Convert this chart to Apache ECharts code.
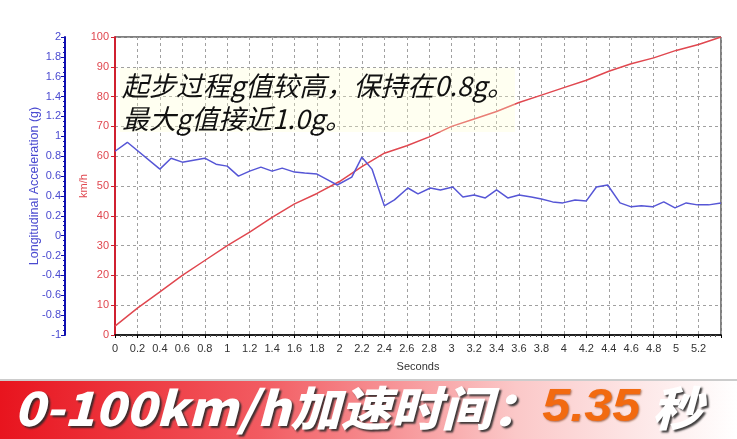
<!DOCTYPE html>
<html>
<head>
<meta charset="utf-8">
<script src="https://cdn.jsdelivr.net/npm/echarts@6/dist/echarts.min.js"></script>
<style>
html,body{margin:0;padding:0;background:#fff;}
#c{width:737px;height:439px;}
</style>
</head>
<body>
<div id="c"></div>
<script>
// ---- data ----
const accelTime = [0, 0.11, 0.4, 0.5, 0.6, 0.8, 0.9, 1.0, 1.1, 1.2, 1.3, 1.4, 1.49, 1.6, 1.69, 1.8, 1.9, 1.98, 2.11, 2.2, 2.29, 2.4, 2.49, 2.61, 2.7, 2.81, 2.9, 3.01, 3.1, 3.2, 3.3, 3.4, 3.5, 3.6, 3.71, 3.8, 3.9, 3.99, 4.1, 4.2, 4.29, 4.39, 4.5, 4.6, 4.69, 4.79, 4.89, 4.99, 5.09, 5.19, 5.29, 5.4];
const accelG    = [0.85, 0.94, 0.67, 0.78, 0.74, 0.78, 0.72, 0.70, 0.60, 0.65, 0.69, 0.65, 0.68, 0.64, 0.63, 0.62, 0.56, 0.51, 0.59, 0.79, 0.67, 0.30, 0.36, 0.48, 0.42, 0.48, 0.46, 0.49, 0.39, 0.41, 0.38, 0.46, 0.38, 0.41, 0.39, 0.37, 0.34, 0.33, 0.36, 0.35, 0.49, 0.51, 0.33, 0.29, 0.30, 0.29, 0.34, 0.28, 0.33, 0.31, 0.31, 0.33];
const speedTime = [0, 0.2, 0.4, 0.6, 0.8, 1.0, 1.2, 1.4, 1.6, 1.8, 2.0, 2.2, 2.4, 2.6, 2.8, 3.0, 3.2, 3.4, 3.6, 3.8, 4.0, 4.2, 4.4, 4.6, 4.8, 5.0, 5.2, 5.4];
const speedKmh  = [3, 9, 14.5, 20, 25, 30, 34.5, 39.5, 44, 47.5, 51.5, 56.5, 61, 63.5, 66.5, 70, 72.5, 75, 78, 80.5, 83, 85.5, 88.5, 91, 93, 95.5, 97.5, 100];
const annotationLines = ['起步过程g值较高，保持在0.8g。', '最大g值接近1.0g。'];
const bannerPrefix = '0-100km/h加速时间：';
const bannerValue = '5.35';
const bannerUnit = ' 秒';

const fmt = v => String(Math.round(v * 10) / 10);
const chart = echarts.init(document.getElementById('c'));
const blue = '#4a4ad0', red = '#e0474f';

chart.setOption({
  backgroundColor: '#fff',
  animation: false,
  grid: { left: 115, right: 16, top: 37, bottom: 104, show: true, borderColor: '#000', borderWidth: 1, backgroundColor: 'transparent' },
  xAxis: {
    type: 'value', min: 0, max: 5.4, interval: 0.2,
    name: 'Seconds', nameLocation: 'middle', nameGap: 26,
    nameTextStyle: { color: '#333', fontSize: 11, fontFamily: 'Liberation Sans' },
    axisLine: { lineStyle: { color: '#000', width: 1.5 } },
    axisTick: { show: true, length: 3, lineStyle: { color: '#000' } },
    minorTick: { show: true, splitNumber: 4, length: 2, lineStyle: { color: '#555' } },
    axisLabel: { color: '#333', fontSize: 11, fontFamily: 'Liberation Sans', margin: 8,
      formatter: v => (v > 5.3 ? '' : fmt(v)) },
    splitLine: { show: true, lineStyle: { color: '#a0a0a0', type: [3, 3], width: 1 } }
  },
  yAxis: [
    {
      type: 'value', min: 0, max: 100, interval: 10, position: 'left', offset: 0,
      name: 'km/h', nameLocation: 'middle', nameGap: 26, nameRotate: 90, nameMoveOverlap: false,
      nameTextStyle: { color: red, fontSize: 11, fontFamily: 'Liberation Sans' },
      axisLine: { show: true, lineStyle: { color: '#d02030', width: 2 } },
      axisTick: { show: true, length: 4, lineStyle: { color: '#d02030' } },
      axisLabel: { color: red, fontSize: 11, fontFamily: 'Liberation Sans', margin: 6 },
      splitLine: { show: true, lineStyle: { color: '#a0a0a0', type: [3, 3], width: 1 } }
    },
    {
      type: 'value', min: -1, max: 2, interval: 0.2, position: 'left', offset: 50,
      name: 'Longitudinal Acceleration (g)', nameLocation: 'middle', nameGap: 24, nameRotate: 90, nameMoveOverlap: false,
      nameTextStyle: { color: blue, fontSize: 12.5, fontFamily: 'Liberation Sans' },
      axisLine: { show: true, lineStyle: { color: '#1010b0', width: 2 } },
      axisTick: { show: true, length: 4, lineStyle: { color: '#1010b0' } },
      minorTick: { show: true, splitNumber: 4, length: 2, lineStyle: { color: '#1010b0' } },
      axisLabel: { color: blue, fontSize: 11, fontFamily: 'Liberation Sans', margin: 4, formatter: fmt },
      splitLine: { show: false }
    }
  ],
  series: [
    {
      type: 'line', yAxisIndex: 0, showSymbol: false, symbol: 'none',
      lineStyle: { color: red, width: 1.5 },
      data: speedTime.map((t, i) => [t, speedKmh[i]]),
      z: 3
    },
    {
      type: 'line', yAxisIndex: 1, showSymbol: false, symbol: 'none',
      lineStyle: { color: '#5656d6', width: 1.5 },
      data: accelTime.map((t, i) => [t, accelG[i]]),
      z: 4
    }
  ],
  graphic: [
    { type: 'rect', left: 120, top: 68, shape: { width: 395, height: 64 }, style: { fill: 'rgba(255,255,210,0.3)' }, z: 10 },
    { type: 'text', left: 122, top: 69, z: 11,
      style: { text: annotationLines.join('\n'), fill: '#111', font: 'italic 27px "Noto Sans CJK SC"', lineHeight: 33 } },
    { type: 'rect', left: 0, top: 381, shape: { width: 737, height: 58 }, z: 10,
      style: { fill: new echarts.graphic.LinearGradient(0, 0, 1, 0, [
        { offset: 0, color: '#e8141e' }, { offset: 0.35, color: '#f25a60' },
        { offset: 0.7, color: '#fbc8c8' }, { offset: 1, color: '#ffffff' }]) } },
    { type: 'line', shape: { x1: 0, y1: 380, x2: 737, y2: 380 }, style: { stroke: '#bbbbbb', lineWidth: 1.5 }, z: 11 },
    { type: 'text', x: 14, y: 385, scaleX: 1.05, scaleY: 0.98, z: 12,
      style: {
        text: '{a|' + bannerPrefix + '}{b|' + bannerValue + '}{a|' + bannerUnit + '}',
        rich: {
          a: { fill: '#ffffff', font: 'italic 900 48px "Noto Sans CJK SC"', textShadowColor: 'rgba(40,40,40,0.9)', textShadowBlur: 2, textShadowOffsetX: 2, textShadowOffsetY: 2 },
          b: { fill: '#f26a10', font: 'italic bold 48px "Liberation Sans"', textShadowColor: 'rgba(120,40,0,0.6)', textShadowBlur: 2, textShadowOffsetX: 1, textShadowOffsetY: 1 }
        }
      } }
  ]
});
</script>
</body>
</html>
